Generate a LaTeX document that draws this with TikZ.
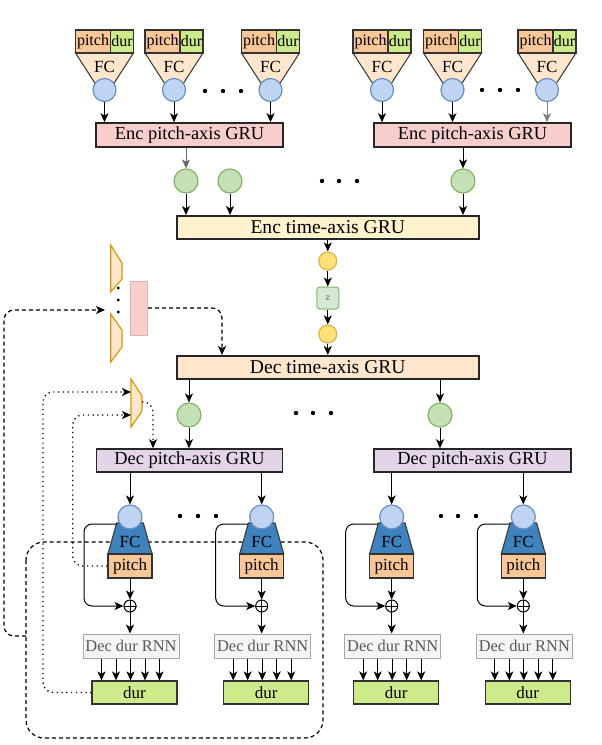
\documentclass[tikz,border=0pt]{standalone}
\usepackage{fontspec}
\setmainfont{Liberation Serif}
\usetikzlibrary{arrows.meta}
\definecolor{pitchc}{HTML}{F9C797}
\definecolor{durc}{HTML}{CDEB8B}
\definecolor{peach}{HTML}{FFE6CC}
\definecolor{bluec}{HTML}{BFD4F2}
\definecolor{blueb}{HTML}{6C8EBF}
\definecolor{encp}{HTML}{F8CECC}
\definecolor{greenc}{HTML}{C5E0B4}
\definecolor{greenb}{HTML}{82B366}
\definecolor{enct}{HTML}{FFF2CC}
\definecolor{yellc}{HTML}{FFE17A}
\definecolor{yellb}{HTML}{D6B656}
\definecolor{zc}{HTML}{D5E8D4}
\definecolor{decp}{HTML}{E1D5E7}
\definecolor{fcblue}{HTML}{3E82BE}
\definecolor{rnnf}{HTML}{F5F5F5}
\definecolor{rnnb}{HTML}{A6A6A6}
\definecolor{orab}{HTML}{D79B00}
\definecolor{pinkb}{HTML}{E0B4B3}
\begin{document}
\begin{tikzpicture}[x=0.5pt,y=-0.5pt,line width=0.5pt,
 arr/.style={-{Stealth[length=4.5pt,width=4pt,inset=1.2pt]}},
 gru/.style={draw=black!85,line width=0.8pt,inner sep=0pt,minimum height=12pt},
 f10/.style={font=\fontsize{9.8}{11}\selectfont},
 f9/.style={font=\fontsize{9.2}{10}\selectfont},
 f8/.style={font=\fontsize{8}{9}\selectfont},
 f85/.style={font=\fontsize{8.5}{9}\selectfont},
 cellbox/.style={draw=black!80,line width=0.6pt,inner sep=0pt},
 bcirc/.style={circle,draw=blueb,fill=bluec,line width=0.6pt,minimum size=11.5pt,inner sep=0pt},
 gcirc/.style={circle,draw=greenb,fill=greenc,line width=0.6pt,minimum size=12pt,inner sep=0pt},
 ycirc/.style={circle,draw=yellb,fill=yellc,line width=0.6pt,minimum size=9pt,inner sep=0pt},
 zbox/.style={draw=greenb,fill=zc,rounded corners=1.5pt,minimum size=11pt,inner sep=0pt,text=black!60,font=\fontsize{5}{6}\selectfont},
 dashline/.style={dash pattern=on 2pt off 1.5pt,line width=0.6pt},
 dotline/.style={dash pattern=on 0.6pt off 1.8pt,line width=0.7pt},
 trapo/.style={fill=peach,draw=orab,line width=0.6pt},
 rnnbox/.style={draw=rnnb,fill=rnnf,text=black!65,minimum width=48pt,minimum height=12pt,inner sep=0pt,font=\fontsize{8.2}{9}\selectfont}
]
\useasboundingbox (0,0) rectangle (601,745);

% ---------- top input blocks ----------
\foreach \i/\c in {1/104.5,2/174,3/270.5,4/382,5/452.5,6/547}{
  \filldraw[fill=peach,draw=black!80,line width=0.5pt] (\c-29,53) -- (\c+29,53) -- (\c+9,84) -- (\c-9,84) -- cycle;
  \node[cellbox,fill=pitchc,minimum width=17.5pt,minimum height=11.5pt,f8] (p\i) at (\c-11.5,41.5) {pitch};
  \node[cellbox,fill=durc,minimum width=11.5pt,minimum height=11.5pt,f8] (d\i) at (\c+17.5,41.5) {dur};
  \node[f85,inner sep=0pt] (fc\i) at (\c,67) {FC};
  \node[bcirc] (c\i) at (\c,90) {};
}
\foreach \x in {205,223,241} \fill (\x,91) circle (1.1pt);
\foreach \x in {482,500,518} \fill (\x,90) circle (1.1pt);

% ---------- encoder pitch-axis ----------
\node[gru,fill=encp,minimum width=93.5pt,f9] (epl) at (189.5,135) {Enc pitch-axis GRU};
\node[gru,fill=encp,minimum width=98.5pt,f9] (epr) at (472.5,135) {Enc pitch-axis GRU};
\foreach \i in {1,2,3} \draw[arr] (c\i) -- (c\i |- epl.north);
\foreach \i in {4,5} \draw[arr] (c\i) -- (c\i |- epr.north);
\draw[arr,draw=black!50] (c6) -- (c6 |- epr.north);

\node[gcirc] (g1) at (186,181) {};
\node[gcirc] (g2) at (230,181) {};
\node[gcirc] (g3) at (463,181) {};
\draw[arr,draw=black!60] (epl.south -| g1) -- (g1);
\draw[arr] (epr.south -| g3) -- (g3);
\foreach \x in {322,339,357} \fill (\x,181) circle (1.1pt);

% ---------- encoder time-axis, latent ----------
\node[gru,fill=enct,minimum width=151pt,minimum height=11.75pt,f10] (et) at (327.8,227.5) {Enc time-axis GRU};
\foreach \n in {g1,g2,g3} \draw[arr] (\n) -- (\n |- et.north);
\node[ycirc] (y1) at (327.8,261) {};
\node[zbox] (z) at (327.8,298) {z};
\node[ycirc] (y2) at (327.8,334) {};
\node[gru,fill=peach,minimum width=151pt,minimum height=11.75pt,f10] (dt) at (327.8,367.5) {Dec time-axis GRU};
\draw[arr] (et) -- (y1);
\draw[arr] (y1) -- (z);
\draw[arr] (z) -- (y2);
\draw[arr] (y2) -- (dt);

% ---------- decoder ----------
\node[gcirc] (g4) at (189,415) {};
\node[gcirc] (g5) at (440,415) {};
\draw[arr] (dt.south -| g4) -- (g4);
\draw[arr] (dt.south -| g5) -- (g5);
\foreach \x in {296,313,331} \fill (\x,413) circle (1.1pt);
\node[gru,fill=decp,minimum width=93pt,minimum height=11.5pt,f9] (dpl) at (189.5,460.5) {Dec pitch-axis GRU};
\node[gru,fill=decp,minimum width=98.5pt,minimum height=11.5pt,f9] (dpr) at (472.5,460.5) {Dec pitch-axis GRU};
\draw[arr] (g4) -- (g4 |- dpl.north);
\draw[arr] (g5) -- (g5 |- dpr.north);

% ---------- big dashed frame ----------
\draw[dashline,rounded corners=9pt] (26,542) rectangle (323,738);

% ---------- left trapezoids ----------
\filldraw[trapo] (110.7,245) -- (122,263) -- (122,279) -- (110.7,292) -- cycle;
\filldraw[trapo] (110.7,314) -- (122,330) -- (122,347) -- (110.7,362) -- cycle;
\foreach \y in {288,300,312} \fill (118.3,\y) circle (0.8pt);
\node[draw=pinkb,fill=encp,minimum width=8.5pt,minimum height=27pt,inner sep=0pt] (pk) at (139.2,308) {};
\coordinate (k1) at (222,308);
\draw[dashline,arr,rounded corners=5pt] (pk.east) -- (k1) -- (k1 |- dt.north);
\coordinate (fbs) at (26,636);
\coordinate (fbt) at (105,310);
\draw[dashline,arr,rounded corners=5pt] (fbs) -- (4,636) -- (4,310) -- (fbt);

\filldraw[trapo] (131,379) -- (142,396) -- (142,411) -- (131,427) -- cycle;
\coordinate (t3a) at (131,392);
\coordinate (t3b) at (131,415);
\coordinate (t3o) at (142,402);
\coordinate (k2) at (153,402);
\draw[dotline,arr,rounded corners=5pt] (t3o) -- (k2) -- (k2 |- dpl.north);

% ---------- decoder modules ----------
\foreach \i/\c/\d in {1/130/dpl,2/261.7/dpl,3/391.7/dpr,4/523.3/dpr}{
  \filldraw[fill=fcblue,draw=black!75,line width=0.6pt] (\c-13.3,523) -- (\c+13.3,523) -- (\c+22,554) -- (\c-22,554) -- cycle;
  \node[f85,inner sep=0pt] (fcb\i) at (\c,542) {FC};
  \node[bcirc,minimum size=12pt] (bc\i) at (\c,517) {};
  \draw[arr] (bc\i |- \d.south) -- (bc\i);
  \node[cellbox,fill=pitchc,minimum width=22pt,minimum height=12pt,f85] (pt\i) at (\c,566) {pitch};
  \node[circle,draw,minimum size=6pt,inner sep=0pt] (ox\i) at (\c,606) {};
  \draw (ox\i.north) -- (ox\i.south) (ox\i.west) -- (ox\i.east);
  \draw[arr] (pt\i) -- (ox\i);
  \draw[arr,rounded corners=4pt] (\c-13.5,524) -- (\c-46,524) -- (\c-46,606) -- (ox\i.west);
  \node[rnnbox] (rn\i) at (\c+1,646) {Dec dur RNN};
  \draw[arr] (ox\i) -- (rn\i.north -| ox\i);
  \node[cellbox,fill=durc,minimum width=42.5pt,minimum height=11.5pt,f85] (du\i) at (\c+4.5,692.5) {dur};
  \foreach \k in {0,...,4}{
    \coordinate (a) at (\c-28.5+14.5*\k,0);
    \draw[arr] (rn\i.south -| a) -- (du\i.north -| a);
  }
}
\foreach \x in {180,198,216} \fill (\x,516) circle (1.1pt);
\foreach \x in {441,458,476} \fill (\x,516) circle (1.1pt);

% ---------- dotted feedback into small trapezoid ----------
\draw[dotline,arr,rounded corners=5pt] (du1.west) -- (43,692.5) -- (43,392) -- (t3a);
\draw[dotline,arr,rounded corners=5pt] (pt1.west) -- (72.7,566) -- (72.7,415) -- (t3b);
\end{tikzpicture}
\end{document}
